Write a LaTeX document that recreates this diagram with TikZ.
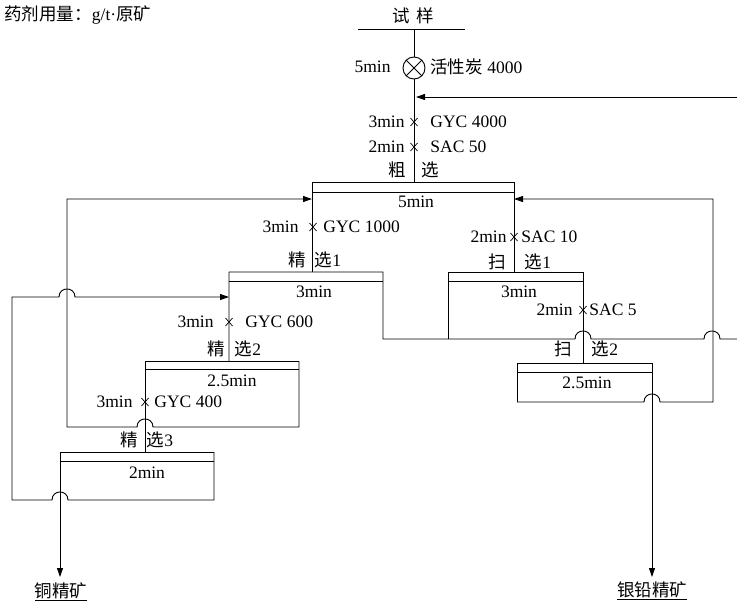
\documentclass[tikz,border=0pt]{standalone}
\usepackage{fontspec}
\setmainfont{Liberation Serif}
\newfontfamily\cjk{Noto Sans CJK SC}
\usetikzlibrary{arrows.meta}
\begin{document}
\begin{tikzpicture}[x=1pt,y=-1pt,line width=0.9pt,
  lbl/.style={inner sep=0pt,font=\fontsize{17.5}{20}\selectfont},
  arr/.style={-{Triangle[length=9pt,width=6pt]}},
  crs/.pic={\draw[line width=0.7pt] (-3.5,-4) -- (3.5,4) (-3.5,4) -- (3.5,-4);}]
\useasboundingbox (0,0) rectangle (737,603);

% legend
\node[lbl,anchor=west] (note) at (4,15) {{\cjk 药剂用量：}g/t·{\cjk 原矿}};

% feed
\node[lbl] (sample) at (413,16) {{\cjk 试}\hspace{7pt}{\cjk 样}};
\coordinate (fl) at (358,29); \coordinate (fr) at (465,29); \coordinate (feed) at (414,29);
\draw (fl) -- (fr);
\node[draw,circle,minimum size=22pt,inner sep=0pt,line width=0.9pt] (mix) at (414,68) {};
\draw (mix.north west) -- (mix.south east) (mix.north east) -- (mix.south west);
\draw (feed) -- (mix.north);
\node[lbl,anchor=east] (t5) at (391,67) {5min};
\node[lbl,anchor=west] (ac) at (430,67) {{\cjk 活性炭} 4000};

% rougher
\coordinate (rTL) at (312,182); \coordinate (rTR) at (514,182); \coordinate (rTop) at (414,182);
\draw (mix.south) -- (rTop);
\coordinate (ret1s) at (737,97); \coordinate (ret1e) at (416,97);
\draw[arr] (ret1s) -- (ret1e);
\pic at (414,122) {crs}; \pic at (414,147) {crs};
\node[lbl,anchor=east] at (405,122) {3min};
\node[lbl,anchor=west] at (430,122) {GYC 4000};
\node[lbl,anchor=east] at (405,147) {2min};
\node[lbl,anchor=west] at (430,147) {SAC 50};
\node[lbl] at (397,170) {\cjk 粗};
\node[lbl] at (430,170) {\cjk 选};
\coordinate (c1Top) at (312,272); \coordinate (s1Top) at (514,272);
\draw (c1Top) -- (rTL) -- (rTR) -- (s1Top);
\draw (312,192) -- (514,192);
\node[lbl] at (416,202) {5min};
\pic at (313,227) {crs}; \pic at (514,237) {crs};
\node[lbl,anchor=east] at (299,227) {3min};
\node[lbl,anchor=west] at (323,227) {GYC 1000};
\node[lbl,anchor=east] at (507,237) {2min};
\node[lbl,anchor=west] at (521,237) {SAC 10};

% cleaner 1
\node[lbl] at (297,260) {\cjk 精};
\node[lbl] at (328,260) {{\cjk 选}1};
\coordinate (c1L) at (229,272); \coordinate (c1R) at (383,272); \coordinate (c2Top) at (229,361);
\draw (c2Top) -- (c1L) -- (c1R) -- (383,339) -- (575,339)
  .. controls (575,328.3) and (591,328.3) .. (591,339) -- (704,339)
  .. controls (704,328.3) and (720,328.3) .. (720,339) -- (737,339);
\draw (229,281) -- (383,281);
\node[lbl] at (314,292) {3min};

% scavenger 1
\node[lbl] at (497,262) {\cjk 扫};
\node[lbl] at (538,262) {{\cjk 选}1};
\coordinate (s1L) at (448,272); \coordinate (s1R) at (583,272); \coordinate (s2Top) at (583,363);
\draw (448,339) -- (s1L) -- (s1R) -- (s2Top);
\draw (448,281) -- (583,281);
\node[lbl] at (519,292) {3min};
\pic at (583,310) {crs};
\node[lbl,anchor=east] at (573,310) {2min};
\node[lbl,anchor=west] at (589,310) {SAC 5};

% scavenger 2
\node[lbl] at (563,349) {\cjk 扫};
\node[lbl] at (605,349) {{\cjk 选}2};
\coordinate (s2L) at (517,363); \coordinate (s2R) at (652,363);
\coordinate (pb) at (652,577); \coordinate (ret2a) at (713,402); \coordinate (ret2b) at (713,199); \coordinate (ret2e) at (514,199);
\draw (517,402) -- (s2L) -- (s2R);
\draw (517,372) -- (652,372);
\draw[arr] (s2R) -- (pb);
\draw[arr] (517,402) -- (644,402) .. controls (644,391.3) and (660,391.3) .. (660,402) -- (ret2a) -- (ret2b) -- (ret2e);
\node[lbl] at (587,383) {2.5min};
\node[lbl] (pbc) at (652,591) {\underline{\cjk 银铅精矿}};

% cleaner 2
\pic at (229,322) {crs};
\node[lbl,anchor=east] at (214,322) {3min};
\node[lbl,anchor=west] at (245,322) {GYC 600};
\node[lbl] at (216,349) {\cjk 精};
\node[lbl] at (248,349) {{\cjk 选}2};
\coordinate (c2L) at (145,361); \coordinate (c2R) at (299,361); \coordinate (c3Top) at (145,452);
\coordinate (ret3a) at (67,427); \coordinate (ret3b) at (67,199); \coordinate (ret3e) at (312,199);
\draw (c3Top) -- (c2L) -- (c2R);
\draw (145,369) -- (299,369);
\draw[arr] (c2R) -- (299,427) -- (153,427) .. controls (153,416.3) and (137,416.3) .. (137,427) -- (ret3a) -- (ret3b) -- (ret3e);
\node[lbl] at (232,381) {2.5min};
\pic at (145,402) {crs};
\node[lbl,anchor=east] at (133,402) {3min};
\node[lbl,anchor=west] at (154,402) {GYC 400};

% cleaner 3
\node[lbl] at (129,440) {\cjk 精};
\node[lbl] at (160,440) {{\cjk 选}3};
\coordinate (c3L) at (60,452); \coordinate (c3R) at (214,452); \coordinate (cu) at (60,577);
\coordinate (ret4a) at (12,500); \coordinate (ret4b) at (12,297); \coordinate (ret4e) at (229,297);
\draw (c3L) -- (c3R);
\draw (60,461) -- (214,461);
\draw[arr] (c3L) -- (cu);
\draw[arr] (c3R) -- (214,500) -- (68,500) .. controls (68,489.3) and (52,489.3) .. (52,500) -- (ret4a) -- (ret4b)
  -- (59,297) .. controls (59,286.3) and (75,286.3) .. (75,297) -- (ret4e);
\node[lbl] at (147,473) {2min};
\node[lbl] (cuc) at (61,592) {\underline{\cjk 铜精矿}};
\end{tikzpicture}
\end{document}
